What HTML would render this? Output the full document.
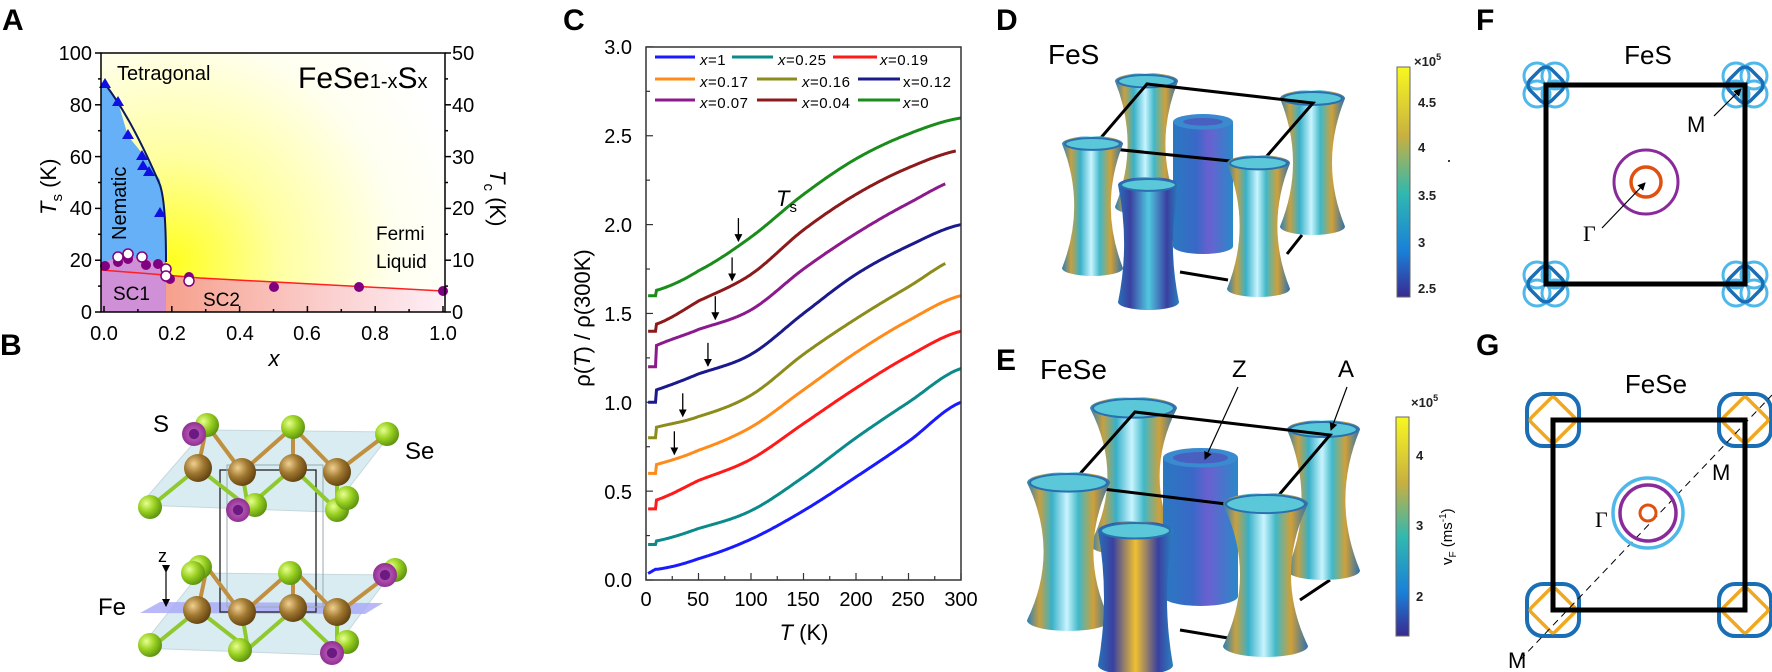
<!DOCTYPE html>
<html><head><meta charset="utf-8">
<style>
html,body{margin:0;padding:0;background:#fff;}
svg{display:block;font-family:"Liberation Sans",Arial,sans-serif;}
.lbl{font-weight:bold;font-size:30px;}
.tk{font-size:20px;}
.lg{font-size:15px;letter-spacing:0.5px;}
</style></head>
<body>
<svg id="s" width="1772" height="672" viewBox="0 0 1772 672" xmlns="http://www.w3.org/2000/svg">
<defs>
<radialGradient id="yel" cx="172" cy="262" r="300" gradientUnits="userSpaceOnUse">
<stop offset="0" stop-color="#ffff20"/><stop offset="0.35" stop-color="#ffffa0"/><stop offset="0.75" stop-color="#fffff0"/><stop offset="1" stop-color="#ffffff"/>
</radialGradient>
<linearGradient id="sc2" x1="0" x2="1" y1="0" y2="0">
<stop offset="0" stop-color="#f6a08c"/><stop offset="0.6" stop-color="#fbd0d0"/><stop offset="1" stop-color="#fdeef5"/>
</linearGradient>
<linearGradient id="hg" x1="0" x2="1" y1="0" y2="0">
<stop offset="0" stop-color="#2a80b8"/><stop offset="0.15" stop-color="#c8a040"/><stop offset="0.3" stop-color="#38b0c8"/><stop offset="0.48" stop-color="#c8f4ff"/><stop offset="0.62" stop-color="#40b8c8"/><stop offset="0.8" stop-color="#d0a038"/><stop offset="1" stop-color="#2a70b0"/>
</linearGradient>
<linearGradient id="cy" x1="0" x2="1" y1="0" y2="0">
<stop offset="0" stop-color="#2a78c0"/><stop offset="0.4" stop-color="#3a68c8"/><stop offset="0.6" stop-color="#6a60d0"/><stop offset="1" stop-color="#2a88c8"/>
</linearGradient>
<linearGradient id="cut" x1="0" x2="1" y1="0" y2="0">
<stop offset="0" stop-color="#2a70b8"/><stop offset="0.2" stop-color="#3a40a0"/><stop offset="0.5" stop-color="#f0c030"/><stop offset="0.8" stop-color="#3a40a0"/><stop offset="1" stop-color="#2a80c0"/>
</linearGradient>
<linearGradient id="cutd" x1="0" x2="1" y1="0" y2="0">
<stop offset="0" stop-color="#2a70b8"/><stop offset="0.2" stop-color="#3a40a0"/><stop offset="0.5" stop-color="#50c8e0"/><stop offset="0.8" stop-color="#3a40a0"/><stop offset="1" stop-color="#2a80c0"/>
</linearGradient>
<linearGradient id="cb1" x1="0" x2="0" y1="0" y2="1">
<stop offset="0" stop-color="#f8f820"/><stop offset="0.3" stop-color="#c8b040"/><stop offset="0.55" stop-color="#30b8b0"/><stop offset="0.8" stop-color="#1a80d8"/><stop offset="1" stop-color="#3a2a90"/>
</linearGradient>
<radialGradient id="gb" cx="0.35" cy="0.35" r="0.7"><stop offset="0" stop-color="#e8ff90"/><stop offset="0.5" stop-color="#98d020"/><stop offset="1" stop-color="#5a9010"/></radialGradient>
<radialGradient id="bb" cx="0.35" cy="0.35" r="0.7"><stop offset="0" stop-color="#f0d090"/><stop offset="0.5" stop-color="#a07830"/><stop offset="1" stop-color="#604010"/></radialGradient>
<radialGradient id="pb" cx="0.5" cy="0.5" r="0.5"><stop offset="0" stop-color="#6a1a80"/><stop offset="0.4" stop-color="#6a1a80"/><stop offset="0.45" stop-color="#b050b0"/><stop offset="1" stop-color="#903090"/></radialGradient>
<marker id="ar" markerWidth="8" markerHeight="8" refX="7" refY="4" orient="auto" markerUnits="userSpaceOnUse"><path d="M0,0 L8,4 L0,8 Z" fill="#000"/></marker>
</defs>

<!-- ========== Panel A ========== -->
<text class="lbl" x="2" y="30">A</text>
<rect x="101" y="53" width="344" height="259" fill="url(#yel)"/>
<path d="M165,312 L165,276 L200,278 L443,291 L443,312 Z" fill="url(#sc2)"/>
<path d="M101,312 L101,82 L105,84 L118,102 L128,136 L146,158 L152,168 L160,180 L164,215 L166,260 L166,312 Z" fill="#66b0f8"/>
<path d="M101,312 L101,262 L120,258 L140,258 L158,262 L165,262 L166,312 Z" fill="#d090d8"/>
<path d="M105,84 C125,110 145,150 160,185 C165,200 166,230 166,262" fill="none" stroke="#0a1a60" stroke-width="2"/>
<path d="M101,270 L165,275 L200,278 L443,291" fill="none" stroke="#ff2020" stroke-width="1.5"/>
<g fill="#1010e0">
<path d="M105,78 l-6,10 h12z"/><path d="M118,96 l-6,10 h12z"/><path d="M128,129 l-6,10 h12z"/><path d="M142,150 l-6,10 h12z"/><path d="M143,160 l-6,10 h12z"/><path d="M149,166 l-6,10 h12z"/><path d="M160,207 l-6,10 h12z"/>
</g>
<g fill="#800080">
<circle cx="105" cy="266" r="5"/><circle cx="118" cy="262" r="5"/><circle cx="128" cy="259" r="5"/><circle cx="146" cy="265" r="5"/><circle cx="158" cy="264" r="5"/><circle cx="170" cy="279" r="5"/><circle cx="189" cy="277" r="5"/><circle cx="274" cy="287" r="5"/><circle cx="359" cy="287" r="5"/><circle cx="443" cy="291" r="5"/>
</g>
<g fill="#fff" stroke="#800080" stroke-width="1.5">
<circle cx="118" cy="257" r="5"/><circle cx="128" cy="254" r="5"/><circle cx="142" cy="257" r="5"/><circle cx="166" cy="269" r="5"/><circle cx="166" cy="276" r="5"/><circle cx="189" cy="281" r="5"/>
</g>
<rect x="101" y="53" width="344" height="259" fill="none" stroke="#000" stroke-width="1.5"/>
<text x="117" y="80" font-size="20">Tetragonal</text>
<text x="298" y="88" font-size="30">FeSe<tspan font-size="20">1-x</tspan>S<tspan font-size="20">x</tspan></text>
<text x="0" y="0" font-size="20" transform="translate(126,240) rotate(-90)">Nematic</text>
<text x="376" y="240" font-size="19">Fermi</text>
<text x="376" y="268" font-size="19">Liquid</text>
<text x="113" y="300" font-size="19">SC1</text>
<text x="203" y="306" font-size="19">SC2</text>
<g id="aticks" stroke="#000" stroke-width="1.5"></g>
<g class="tk" text-anchor="end">
<text x="92" y="60">100</text><text x="92" y="112">80</text><text x="92" y="164">60</text><text x="92" y="215">40</text><text x="92" y="267">20</text><text x="92" y="319">0</text>
</g>
<g class="tk">
<text x="452" y="60">50</text><text x="452" y="112">40</text><text x="452" y="164">30</text><text x="452" y="215">20</text><text x="452" y="267">10</text><text x="452" y="319">0</text>
</g>
<g class="tk" text-anchor="middle">
<text x="104" y="340">0.0</text><text x="172" y="340">0.2</text><text x="240" y="340">0.4</text><text x="307" y="340">0.6</text><text x="375" y="340">0.8</text><text x="443" y="340">1.0</text>
</g>
<text x="274" y="366" font-size="22" font-style="italic" text-anchor="middle">x</text>
<text font-size="22" transform="translate(56,215) rotate(-90)"><tspan font-style="italic">T</tspan><tspan font-size="15" dy="6">s</tspan><tspan dy="-6"> (K)</tspan></text>
<text font-size="22" transform="translate(490,170) rotate(90)"><tspan font-style="italic">T</tspan><tspan font-size="15" dy="6">c</tspan><tspan dy="-6"> (K)</tspan></text>

<!-- ========== Panel B ========== -->
<text class="lbl" x="0" y="355">B</text>
<g id="bstruct"></g>
<text x="153" y="432" font-size="24">S</text>
<text x="405" y="459" font-size="24">Se</text>
<text x="98" y="615" font-size="24">Fe</text>
<text x="158" y="562" font-size="18">z</text>
<path d="M166,572 L166,606" stroke="#000" stroke-width="1.2" marker-end="url(#ar)" marker-start="url(#ar)"/>

<!-- ========== Panel C ========== -->
<text class="lbl" x="563" y="30">C</text>
<g id="cplot"></g>
<rect x="646" y="47" width="315" height="533" fill="none" stroke="#333" stroke-width="1.5"/>
<g class="tk" text-anchor="end">
<text x="632" y="54">3.0</text><text x="632" y="143">2.5</text><text x="632" y="232">2.0</text><text x="632" y="321">1.5</text><text x="632" y="410">1.0</text><text x="632" y="499">0.5</text><text x="632" y="587">0.0</text>
</g>
<g class="tk" text-anchor="middle">
<text x="646" y="606">0</text><text x="698" y="606">50</text><text x="751" y="606">100</text><text x="803" y="606">150</text><text x="856" y="606">200</text><text x="908" y="606">250</text><text x="961" y="606">300</text>
</g>
<text x="804" y="640" font-size="22" text-anchor="middle"><tspan font-style="italic">T</tspan> (K)</text>
<text font-size="22" text-anchor="middle" transform="translate(590,318) rotate(-90)">ρ(<tspan font-style="italic">T</tspan>) / ρ(300K)</text>
<g class="lg">
<text x="700" y="65"><tspan font-style="italic">x</tspan>=1</text><text x="778" y="65"><tspan font-style="italic">x</tspan>=0.25</text><text x="880" y="65"><tspan font-style="italic">x</tspan>=0.19</text>
<text x="700" y="87"><tspan font-style="italic">x</tspan>=0.17</text><text x="802" y="87"><tspan font-style="italic">x</tspan>=0.16</text><text x="903" y="87">x=0.12</text>
<text x="700" y="108"><tspan font-style="italic">x</tspan>=0.07</text><text x="802" y="108"><tspan font-style="italic">x</tspan>=0.04</text><text x="903" y="108"><tspan font-style="italic">x</tspan>=0</text>
</g>
<text x="776" y="206" font-size="22" font-style="italic">T<tspan font-size="15" dy="6" font-style="normal">s</tspan></text>

<!-- ========== Panel D / E ========== -->
<text class="lbl" x="996" y="30">D</text>
<text x="1048" y="64" font-size="28">FeS</text>
<g id="dsurf"></g>
<text class="lbl" x="996" y="370">E</text>
<text x="1040" y="379" font-size="28">FeSe</text>
<g id="esurf"></g>
<text x="1232" y="377" font-size="24">Z</text>
<text x="1338" y="377" font-size="24">A</text>
<path d="M1238,387 L1205,459" stroke="#000" stroke-width="1.2" marker-end="url(#ar)"/>
<path d="M1347,387 L1331,430" stroke="#000" stroke-width="1.2" marker-end="url(#ar)"/>

<!-- colorbars -->
<rect x="1397" y="67" width="13" height="230" fill="url(#cb1)" stroke="#666" stroke-width="1"/>
<g font-size="13" font-weight="bold" fill="#222">
<text x="1414" y="66">×10<tspan font-size="9" dy="-6">5</tspan></text>
<text x="1418" y="107">4.5</text><text x="1418" y="152">4</text><text x="1418" y="200">3.5</text><text x="1418" y="247">3</text><text x="1418" y="293">2.5</text>
</g>
<circle cx="1449" cy="161" r="1" fill="#000"/>
<rect x="1396" y="417" width="13" height="219" fill="url(#cb1)" stroke="#666" stroke-width="1"/>
<g font-size="13" font-weight="bold" fill="#222">
<text x="1411" y="407">×10<tspan font-size="9" dy="-6">5</tspan></text>
<text x="1416" y="460">4</text><text x="1416" y="530">3</text><text x="1416" y="601">2</text>
</g>
<text font-size="15" transform="translate(1452,565) rotate(-90)">v<tspan font-size="10" dy="4">F</tspan><tspan dy="-4"> (ms</tspan><tspan font-size="10" dy="-6">-1</tspan><tspan dy="6">)</tspan></text>

<!-- ========== Panel F ========== -->
<text class="lbl" x="1476" y="30">F</text>
<text x="1648" y="64" font-size="26" text-anchor="middle">FeS</text>
<g id="fpock"></g>
<rect x="1546" y="85" width="199" height="199" fill="none" stroke="#000" stroke-width="5"/>
<circle cx="1646" cy="182" r="32" fill="none" stroke="#8a2a9a" stroke-width="3"/>
<circle cx="1646" cy="182" r="15" fill="none" stroke="#e05010" stroke-width="3.5"/>
<path d="M1602,228 L1645,183" stroke="#000" stroke-width="1.2" marker-end="url(#ar)"/>
<text x="1583" y="241" font-size="22" font-family="Liberation Serif,serif">Γ</text>
<path d="M1714,116 L1741,89" stroke="#000" stroke-width="1.2" marker-end="url(#ar)"/>
<text x="1687" y="132" font-size="22">M</text>

<!-- ========== Panel G ========== -->
<text class="lbl" x="1476" y="355">G</text>
<text x="1656" y="393" font-size="26" text-anchor="middle">FeSe</text>
<g id="gpock"></g>
<path d="M1520,660 L1772,395" stroke="#000" stroke-width="1" stroke-dasharray="7,5"/>
<rect x="1553" y="420" width="192" height="190" fill="none" stroke="#000" stroke-width="5"/>
<circle cx="1648" cy="513" r="35" fill="none" stroke="#4fb8ea" stroke-width="3.5"/>
<circle cx="1648" cy="513" r="28" fill="none" stroke="#8a2a9a" stroke-width="3.5"/>
<circle cx="1648" cy="513" r="8" fill="none" stroke="#e05010" stroke-width="3"/>
<text x="1595" y="527" font-size="22" font-family="Liberation Serif,serif">Γ</text>
<text x="1712" y="480" font-size="22">M</text>
<text x="1508" y="668" font-size="22">M</text>
</svg>
<script>
var NS="http://www.w3.org/2000/svg";
function el(p,t,a){var e=document.createElementNS(NS,t);for(var k in a)e.setAttribute(k,a[k]);p.appendChild(e);return e;}
var at=document.getElementById('aticks');
for(var i=0;i<=10;i++){var y=312-i*25.9;var L=(i%2==0)?6:3;
 el(at,'line',{x1:101-L,y1:y,x2:101,y2:y});el(at,'line',{x1:445,y1:y,x2:445+L,y2:y});}
for(var i=0;i<=10;i++){var x=104+i*33.9;var L=(i%2==0)?6:3;el(at,'line',{x1:x,y1:312,x2:x,y2:312-L});}
var cp=document.getElementById('cplot');
function X(T){return 646+T*1.05;} function Y(v){return 580-v*177.7;}
for(var i=0;i<=12;i++){var L=(i%2==0)?7:4;el(cp,'line',{x1:X(i*25),y1:580,x2:X(i*25),y2:580-L,stroke:'#333','stroke-width':1.2});}
for(var i=0;i<=12;i++){var L=(i%2==0)?7:4;el(cp,'line',{x1:646,y1:Y(i*0.25),x2:646+L,y2:Y(i*0.25),stroke:'#333','stroke-width':1.2});}
var Ts=[0,9,10,50,100,150,200,250,300];
var C=[
['#1a1aff',[0.03,0.06,0.06,0.12,0.23,0.39,0.58,0.78,1.0],300],
['#0a8a8a',[0.2,0.2,0.22,0.29,0.39,0.58,0.8,1.0,1.19],300],
['#ff1a1a',[0.4,0.4,0.45,0.56,0.68,0.88,1.08,1.26,1.40],300],
['#ff8c1a',[0.6,0.6,0.65,0.73,0.86,1.07,1.28,1.46,1.60],300],
['#8c8c1a',[0.8,0.8,0.86,0.92,1.04,1.27,1.47,1.65,1.82],285],
['#1a1a8c',[1.0,1.0,1.07,1.16,1.27,1.50,1.72,1.88,2.0],300],
['#8c1a8c',[1.2,1.2,1.32,1.41,1.52,1.75,1.95,2.12,2.26],285],
['#8c1a1a',[1.4,1.4,1.44,1.57,1.72,1.97,2.17,2.32,2.42],295],
['#1a8c1a',[1.6,1.6,1.63,1.74,1.93,2.17,2.37,2.51,2.6],300]];
function interp(v,T){for(var k=0;k<Ts.length-1;k++){if(T<=Ts[k+1]){var f=(T-Ts[k])/(Ts[k+1]-Ts[k]);
 var a=v[Math.max(k-1,0)],b=v[k],c=v[k+1],d=v[Math.min(k+2,8)];
 if(k<2)return b+(c-b)*f;
 var f2=f*f,f3=f2*f;return 0.5*((2*b)+(-a+c)*f+(2*a-5*b+4*c-d)*f2+(-a+3*b-3*c+d)*f3);}}return v[8];}
C.forEach(function(c){var d='';for(var T=2;T<=c[2];T+=1){d+=(T==2?'M':'L')+X(T).toFixed(1)+','+Y(interp(c[1],T)).toFixed(1);}
 el(cp,'path',{d:d,fill:'none',stroke:c[0],'stroke-width':3});});
[[655,695,57,0],[732,773,57,1],[833,877,57,2],[655,695,79,3],[757,797,79,4],[858,900,79,5],[655,695,100,6],[757,797,100,7],[858,900,100,8]].forEach(function(l){
 el(cp,'line',{x1:l[0],y1:l[2],x2:l[1],y2:l[2],stroke:C[l[3]][0],'stroke-width':3});});
[[8,88],[7,82],[6,66],[5,59],[4,35],[3,27]].forEach(function(a){var c=C[a[0]];var y=Y(interp(c[1],a[1]));
 el(cp,'line',{x1:X(a[1]),y1:y-28,x2:X(a[1]),y2:y-5,stroke:'#000','stroke-width':1.3,'marker-end':'url(#ar)'});});
var bs=document.getElementById('bstruct');
function plane(pts,f){el(bs,'polygon',{points:pts,fill:f,stroke:'#b0c8d0','stroke-width':1,opacity:0.7});}
plane('140,505 205,430 392,432 330,512','#c8e4ec');
plane('140,648 200,573 390,575 330,655','#c8e4ec');
el(bs,'polygon',{points:'140,613 160,602 383,603 365,614',fill:'#a8a8f8',opacity:0.8});
el(bs,'rect',{x:220,y:470,width:96,height:142,fill:'none',stroke:'#222','stroke-width':1.3});
el(bs,'rect',{x:227,y:465,width:96,height:142,fill:'none',stroke:'#99aab0','stroke-width':1});
function bond(a,b,c){el(bs,'line',{x1:a[0],y1:a[1],x2:b[0],y2:b[1],stroke:c||'#90c830','stroke-width':4});}
[0,142].forEach(function(dy){
 var fe=[[198,468],[242,472],[293,468],[337,472]];
 var up=[[207,425],[293,427],[387,434]],lo=[[150,507],[248,507],[337,510]];
 fe.forEach(function(f){up.forEach(function(g){if(Math.abs(g[0]-f[0])<60)bond([f[0],f[1]+dy],[g[0],g[1]+dy],'#c09040');});
  lo.forEach(function(g){if(Math.abs(g[0]-f[0])<60)bond([f[0],f[1]+dy],[g[0],g[1]+dy],'#90c830');});});
});
function ball(x,y,t){el(bs,'circle',{cx:x,cy:y,r:t=='b'?14:12,fill:t=='g'?'url(#gb)':t=='b'?'url(#bb)':'url(#pb)'});}
[[207,425,'g'],[293,427,'g'],[387,434,'g'],[194,434,'p'],[198,468,'b'],[242,472,'b'],[293,468,'b'],[337,472,'b'],[150,507,'g'],[255,505,'g'],[238,510,'p'],[337,510,'g'],[347,498,'g'],
 [200,567,'g'],[193,573,'g'],[290,573,'g'],[395,570,'g'],[385,575,'p'],[197,610,'b'],[242,612,'b'],[293,608,'b'],[337,612,'b'],[150,645,'g'],[240,650,'g'],[347,642,'g'],[332,653,'p']].forEach(function(b){ball(b[0],b[1],b[2]);});
function hour(g,x0,y0,x1,y1,fill,waist){var w=x1-x0,cx=(x0+x1)/2,ry=w*0.13,ym=(y0+y1)/2,in_=w*(waist||0.2);
 var d='M'+x0+','+(y0+ry)+' Q'+(x0+in_*2)+','+ym+' '+x0+','+(y1-ry)+' A'+(w/2)+','+ry+' 0 0 0 '+x1+','+(y1-ry)+' Q'+(x1-in_*2)+','+ym+' '+x1+','+(y0+ry)+' A'+(w/2)+','+ry+' 0 0 0 '+x0+','+(y0+ry)+'Z';
 el(g,'path',{d:d,fill:fill});
 el(g,'ellipse',{cx:cx,cy:y0+ry,rx:w/2-3,ry:ry-2,fill:'#5ac8d8',stroke:'#2a70b0','stroke-width':2});}
function cyl(g,x0,y0,x1,y1,fill){var w=x1-x0,cx=(x0+x1)/2,ry=w*0.13;
 el(g,'path',{d:'M'+x0+','+(y0+ry)+' L'+x0+','+(y1-ry)+' A'+(w/2)+','+ry+' 0 0 0 '+x1+','+(y1-ry)+' L'+x1+','+(y0+ry)+'Z',fill:fill});
 el(g,'ellipse',{cx:cx,cy:y0+ry,rx:w/2,ry:ry,fill:'#3a8ad0'});el(g,'ellipse',{cx:cx,cy:y0+ry,rx:w/2-10,ry:ry-4,fill:'#4a60c0'});}
function line(g,p){el(g,'polyline',{points:p,fill:'none',stroke:'#000','stroke-width':3});}
var D=document.getElementById('dsurf');
line(D,'1180,272 1228,280');line(D,'1302,235 1287,254');
hour(D,1115,73,1178,215,'url(#hg)');
cyl(D,1173,114,1233,254,'url(#cy)');
hour(D,1280,90,1345,235,'url(#hg)');
line(D,'1093,147 1147,84 1313,103 1260,164 1093,147');
hour(D,1062,136,1123,276,'url(#hg)');
hour(D,1227,155,1290,297,'url(#hg)');
hour(D,1118,177,1179,310,'url(#cutd)',0.1);
var E=document.getElementById('esurf');
line(E,'1180,630 1240,640');line(E,'1330,580 1300,600');
hour(E,1090,397,1177,556,'url(#hg)');
cyl(E,1163,448,1238,606,'url(#cy)');
hour(E,1287,420,1360,580,'url(#hg)');
line(E,'1070,485 1135,412 1330,435 1267,509 1070,485');
hour(E,1027,472,1110,631,'url(#hg)');
hour(E,1223,493,1308,657,'url(#hg)');
hour(E,1098,521,1173,675,'url(#cut)',0.08);
function pockF(g,cx,cy){
 [[-10,-10],[10,-10],[-10,10],[10,10]].forEach(function(o){el(g,'circle',{cx:cx+o[0]*0.9,cy:cy+o[1]*0.9,r:13,fill:'none',stroke:'#4fb8ea','stroke-width':3});});
 el(g,'rect',{x:cx-15,y:cy-15,width:30,height:30,rx:8,transform:'rotate(45 '+cx+' '+cy+')',fill:'none',stroke:'#1a6eb5','stroke-width':3.5});}
var F=document.getElementById('fpock');
[[1546,85],[1745,85],[1546,284],[1745,284]].forEach(function(p){pockF(F,p[0],p[1]);});
var G=document.getElementById('gpock');
[[1553,420],[1745,420],[1553,610],[1745,610]].forEach(function(p){
 el(G,'rect',{x:p[0]-26,y:p[1]-26,width:52,height:52,rx:16,fill:'none',stroke:'#1a6eb5','stroke-width':4});
 el(G,'rect',{x:p[0]-17,y:p[1]-17,width:34,height:34,rx:3,transform:'rotate(45 '+p[0]+' '+p[1]+')',fill:'none',stroke:'#f0a820','stroke-width':3.5});});
</script>
</body></html>
